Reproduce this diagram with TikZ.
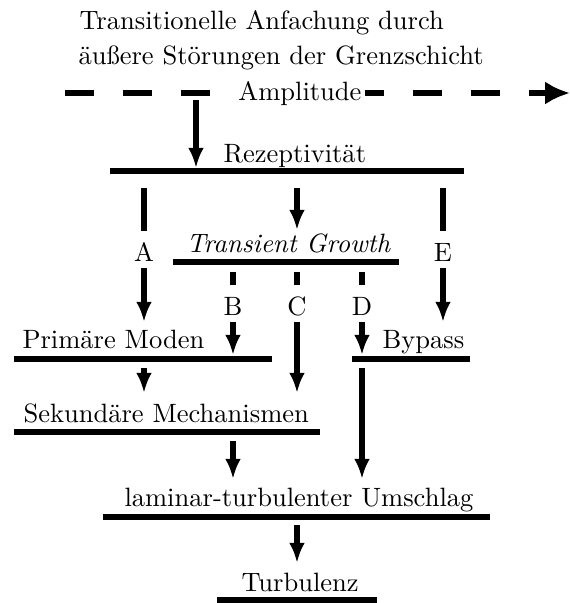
\documentclass[tikz,border=0pt]{standalone}
\usetikzlibrary{arrows.meta}
\begin{document}
\begin{tikzpicture}[x=0.3846pt,y=-0.3846pt,
  every node/.style={font=\fontsize{10.2pt}{12pt}\selectfont},
  txt/.style={anchor=base west,inner sep=0pt},
  lab/.style={anchor=base,inner sep=0pt,text height=11.3pt,text depth=2.5pt},
  bar/.style={line width=2.1pt},
  shaft/.style={line width=2.1pt},
  arr/.style={line width=2.1pt,-{Latex[length=7.7pt,width=6pt]}},
  darr/.style={line width=2.1pt,dash pattern=on 11.15pt off 11.15pt,-{Latex[length=9.6pt,width=9pt]}}]
\useasboundingbox (0,0) rectangle (570,603);
% heading
\node[txt] (t1) at (79,29) {Transitionelle Anfachung durch};
\node[txt] (t2) at (78,64) {äußere Störungen der Grenzschicht};
% amplitude axis
\coordinate (axL) at (65,93);
\coordinate (axR) at (570,93);
\draw[darr] (axL) -- (axR);
\node[anchor=base west,inner xsep=1.5pt,inner ysep=1pt,fill=white] (amp) at (234,100) {Amplitude};
% levels
\node[txt] (rez) at (223,162) {Rezeptivität};
\coordinate (rezL) at (110,171); \coordinate (rezR) at (464,171);
\draw[bar] (rezL) -- (rezR);
\node[txt] (tg) at (186,252) {\textit{Transient Growth}};
\coordinate (tgL) at (173,262); \coordinate (tgR) at (399,262);
\draw[bar] (tgL) -- (tgR);
\node[txt] (pm) at (22,348) {Primäre Moden};
\coordinate (pmL) at (14,359); \coordinate (pmR) at (272,359);
\draw[bar] (pmL) -- (pmR);
\node[txt] (bp) at (382,348) {Bypass};
\coordinate (bpL) at (352,359); \coordinate (bpR) at (470,359);
\draw[bar] (bpL) -- (bpR);
\node[txt] (sm) at (23,422) {Sekundäre Mechanismen};
\coordinate (smL) at (14,432); \coordinate (smR) at (320,432);
\draw[bar] (smL) -- (smR);
\node[txt] (lt) at (124,506) {laminar-turbulenter Umschlag};
\coordinate (ltL) at (103,517); \coordinate (ltR) at (490,517);
\draw[bar] (ltL) -- (ltR);
\node[txt] (tu) at (241,591) {Turbulenz};
\coordinate (tuL) at (217,600); \coordinate (tuR) at (377,600);
\draw[bar] (tuL) -- (tuR);
% labels
\node[lab] (A) at (144,261) {A};
\node[lab] (E) at (443,261) {E};
\node[lab] (B) at (233,315) {B};
\node[lab] (C) at (297,315) {C};
\node[lab] (D) at (362,315) {D};
% arrow end points
\coordinate (s0) at (196,100); \coordinate (e0) at (196,168);
\coordinate (sA) at (144,188); \coordinate (eA) at (144,322);
\coordinate (sM) at (297,188); \coordinate (eM) at (297,230);
\coordinate (sE) at (443,188); \coordinate (eE) at (443,322);
\coordinate (sB) at (233,272); \coordinate (eB) at (233,355);
\coordinate (sC) at (297,272); \coordinate (eC) at (297,393);
\coordinate (sD) at (362,272); \coordinate (eD) at (362,355);
\coordinate (sP) at (144,368); \coordinate (eP) at (144,393);
\coordinate (sY) at (362,368); \coordinate (eY) at (362,479);
\coordinate (sS) at (233,441); \coordinate (eS) at (233,479);
\coordinate (sL) at (297,525); \coordinate (eL) at (297,563);
% connectors
\draw[arr] (s0) -- (e0);
\draw[arr] (sM) -- (eM);
\draw[shaft] (sA) -- (A.north); \draw[arr] (A.south) -- (eA);
\draw[shaft] (sE) -- (E.north); \draw[arr] (E.south) -- (eE);
\draw[shaft] (sB) -- (B.north); \draw[arr] (B.south) -- (eB);
\draw[shaft] (sC) -- (C.north); \draw[arr] (C.south) -- (eC);
\draw[shaft] (sD) -- (D.north); \draw[arr] (D.south) -- (eD);
\draw[arr] (sP) -- (eP);
\draw[arr] (sY) -- (eY);
\draw[arr] (sS) -- (eS);
\draw[arr] (sL) -- (eL);
\end{tikzpicture}
\end{document}
